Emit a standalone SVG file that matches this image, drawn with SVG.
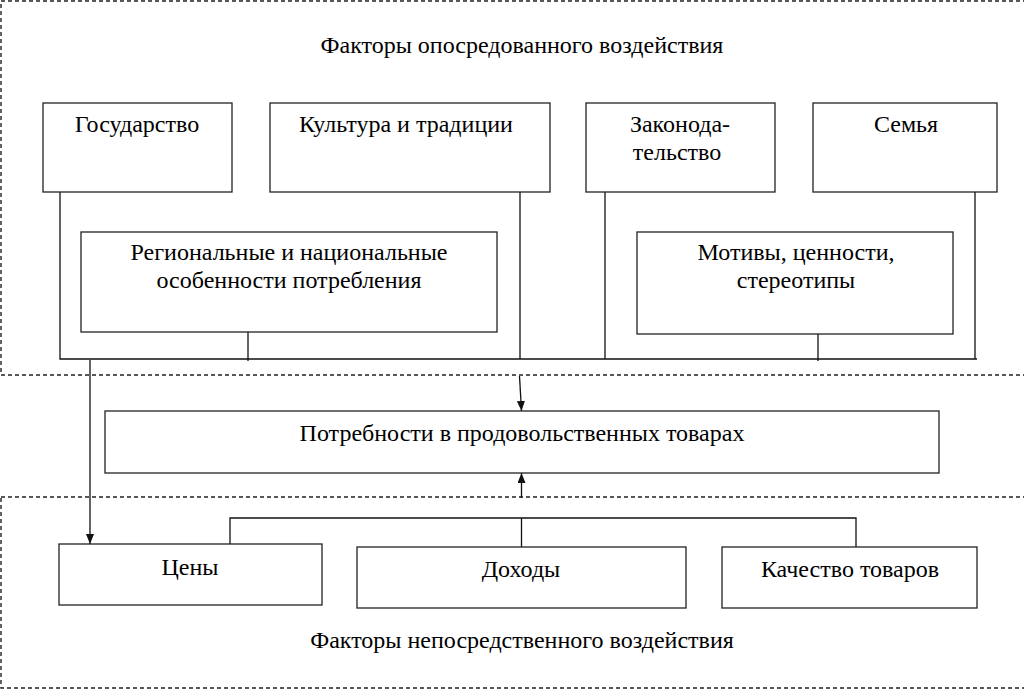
<svg xmlns="http://www.w3.org/2000/svg" width="1024" height="690" viewBox="0 0 1024 690">
<style>
.box{fill:#fff;stroke:#222;stroke-width:1.3}
.zone{fill:none;stroke:#222;stroke-width:1.4;stroke-dasharray:4 3}
.ln{fill:none;stroke:#111;stroke-width:1.3}
.t{font-family:'Liberation Serif','Times New Roman',Times,serif;font-size:24px;fill:#000;text-anchor:middle}
</style>
<defs>
<marker id="ah" viewBox="0 0 10 8" refX="10" refY="4" markerWidth="10" markerHeight="8" markerUnits="userSpaceOnUse" orient="auto">
<path d="M0,0 L10,4 L0,8 z" fill="#111"/>
</marker>
</defs>
<rect width="1024" height="690" fill="#fff"/>
<g id="zone-indirect">
<rect class="zone" x="1" y="1" width="1040" height="374"/>
<text class="t" x="522" y="53">Факторы опосредованного воздействия</text>
</g>
<g id="zone-direct">
<rect class="zone" x="1" y="497" width="1040" height="191"/>
<text class="t" x="522" y="648">Факторы непосредственного воздействия</text>
</g>
<g id="connectors">
<polyline class="ln" points="60,192 60,359 977,359"/>
<line class="ln" x1="520" y1="192" x2="520" y2="359"/>
<line class="ln" x1="605" y1="192" x2="605" y2="359"/>
<line class="ln" x1="975" y1="192" x2="975" y2="359"/>
<line class="ln" x1="248" y1="332" x2="248" y2="361"/>
<line class="ln" x1="818" y1="334" x2="818" y2="361"/>
<line class="ln" x1="90" y1="360" x2="90" y2="544" marker-end="url(#ah)"/>
<line class="ln" x1="519.5" y1="376" x2="521.5" y2="411" marker-end="url(#ah)"/>
<line class="ln" x1="521.5" y1="498" x2="521.5" y2="473" marker-end="url(#ah)"/>
<polyline class="ln" points="230,544 230,518 856,518 856,547"/>
<line class="ln" x1="521.5" y1="518" x2="521.5" y2="547"/>
</g>
<g id="n-gos"><rect class="box" x="43" y="103" width="189" height="89"/><text class="t" x="137" y="132">Государство</text></g>
<g id="n-kult"><rect class="box" x="270" y="103" width="280" height="89"/><text class="t" x="406" y="132">Культура и традиции</text></g>
<g id="n-zak"><rect class="box" x="586" y="103" width="189" height="89"/><text class="t" x="680" y="132">Законода-</text><text class="t" x="677" y="160">тельство</text></g>
<g id="n-sem"><rect class="box" x="813" y="103" width="184" height="89"/><text class="t" x="906" y="132">Семья</text></g>
<g id="n-reg"><rect class="box" x="81" y="232" width="416" height="100"/><text class="t" x="289" y="260">Региональные и национальные</text><text class="t" x="289" y="288">особенности потребления</text></g>
<g id="n-mot"><rect class="box" x="637" y="232" width="316" height="102"/><text class="t" x="796" y="260">Мотивы, ценности,</text><text class="t" x="796" y="288">стереотипы</text></g>
<g id="n-potr"><rect class="box" x="105" y="411" width="834" height="62"/><text class="t" x="522" y="441">Потребности в продовольственных товарах</text></g>
<g id="n-ceny"><rect class="box" x="59" y="544" width="263" height="61"/><text class="t" x="190" y="575">Цены</text></g>
<g id="n-doh"><rect class="box" x="357" y="547" width="329" height="61"/><text class="t" x="521" y="577">Доходы</text></g>
<g id="n-kach"><rect class="box" x="722" y="547" width="255" height="61"/><text class="t" x="850" y="577">Качество товаров</text></g>
</svg>
